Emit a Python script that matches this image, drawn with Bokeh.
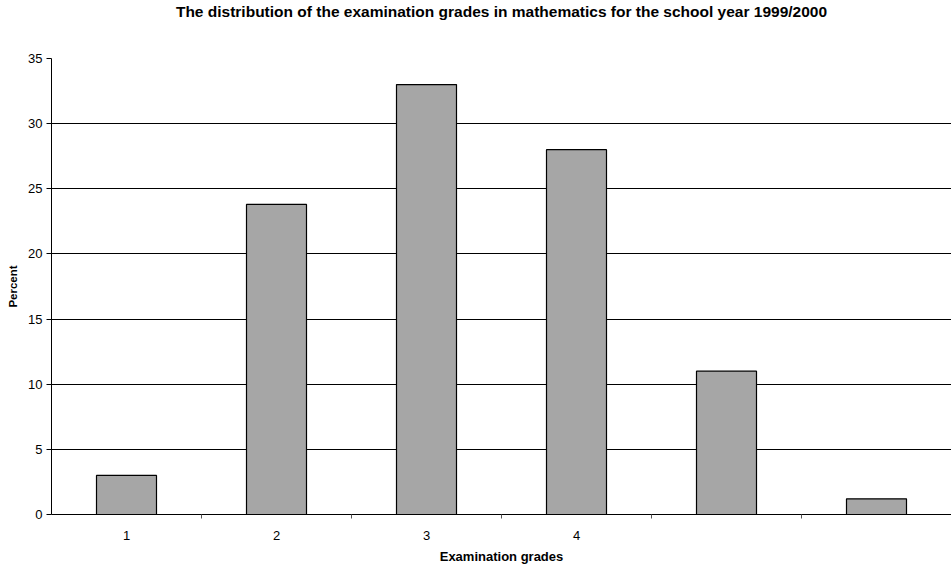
from bokeh.plotting import figure
from bokeh.models import FixedTicker, Range1d, Title
from bokeh.embed import file_html
from bokeh.resources import INLINE

title_text = "The distribution of the examination grades in mathematics for the school year 1999/2000"
grades = ["1", "2", "3", "4", "", ""]
percent = [3.0, 23.8, 33.0, 28.0, 11.0, 1.2]
y_ticks = [0, 5, 10, 15, 20, 25, 30, 35]

n = len(grades)
xs = [i + 0.5 for i in range(n)]

p = figure(width=951, height=568, output_backend="svg", toolbar_location=None,
           x_range=Range1d(0, n), y_range=Range1d(0, 35),
           min_border_left=51, min_border_right=0, min_border_top=0, min_border_bottom=54)

p.vbar(x=xs, top=percent, width=0.4, fill_color="#A6A6A6", line_color="black", line_width=1.2)

font = "Liberation Sans"
p.title.visible = False
# spacer between the title and the frame, then the title itself (stacked outward)
p.add_layout(Title(text=" ", text_font=font, text_font_size="33.5px", standoff=0, offset=0), "above")
p.add_layout(Title(text=title_text, align="center", text_font=font, text_font_size="15.5px",
                   text_font_style="bold", text_color="black", standoff=0, offset=0), "above")

p.outline_line_color = None
p.background_fill_color = "white"

# x axis
xa = p.xaxis[0]
xa.ticker = FixedTicker(ticks=xs, minor_ticks=[i for i in range(1, n)])
xa.major_label_overrides = {x: g for x, g in zip(xs, grades)}
xa.major_tick_out = 0
xa.major_tick_in = 0
xa.minor_tick_out = 4
xa.minor_tick_in = 0
xa.minor_tick_line_color = "#555555"
xa.axis_line_color = "black"
xa.axis_label = "Examination grades"
xa.axis_label_text_font = font
xa.axis_label_text_font_size = "13px"
xa.axis_label_text_font_style = "bold"
xa.axis_label_text_color = "black"
xa.major_label_text_font = font
xa.major_label_text_font_size = "13px"
xa.major_label_text_color = "black"
xa.major_label_standoff = 12
xa.axis_label_standoff = 6

# y axis
ya = p.yaxis[0]
ya.ticker = FixedTicker(ticks=y_ticks)
ya.minor_tick_line_color = None
ya.major_tick_out = 5
ya.major_tick_in = 0
ya.axis_line_color = "black"
ya.axis_label = "Percent"
ya.axis_label_text_font = font
ya.axis_label_text_font_size = "11.5px"
ya.axis_label_text_font_style = "bold"
ya.axis_label_text_color = "black"
ya.major_label_text_font = font
ya.major_label_text_font_size = "13px"
ya.major_label_text_color = "black"
ya.major_label_standoff = 4
ya.axis_label_standoff = 6

p.xgrid.grid_line_color = None
p.ygrid.grid_line_color = "black"
p.ygrid.grid_line_width = 1

open("out.html", "w").write(file_html(p, INLINE))
